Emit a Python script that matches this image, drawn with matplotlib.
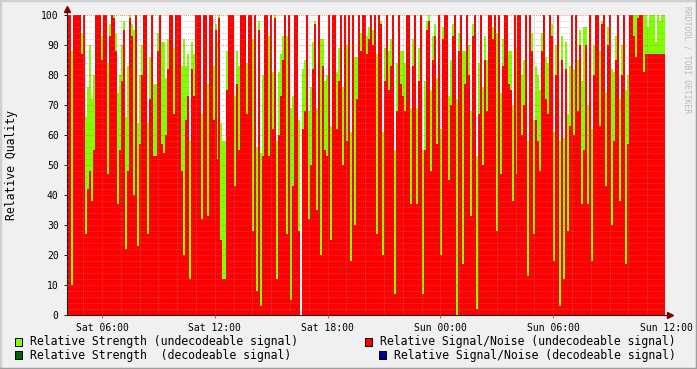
import pandas as pd
import matplotlib
matplotlib.use('Agg')
import matplotlib.pyplot as plt
import matplotlib.dates as mdates
import matplotlib.transforms as mtransforms
from matplotlib.patches import Rectangle
from matplotlib.lines import Line2D
from matplotlib.ticker import MultipleLocator

# time window of the graph
t_start = '2008-03-15 04:08'
t_end = '2008-03-16 11:57'
t_last_label = '2008-03-16 12:00'

# relative signal/noise (top of the red area), one value per slot
snr_a = [100, 100, 10, 100, 100, 100, 100, 87, 100, 27, 42, 48, 38, 55, 100, 100, 100, 85, 100, 100, 47, 93,
         100, 99, 88, 37, 55, 78, 95, 22, 48, 99, 93, 40, 100, 23, 57, 80, 100, 100, 27, 72, 100]
snr_b = [53, 53, 88, 100, 57, 54, 60, 82, 100, 100, 67, 100, 100, 100, 48, 20, 65, 73, 12, 82, 73, 100,
         100, 100, 32, 100, 100, 33, 100, 100, 65, 95, 52, 99, 25, 12, 12, 75, 100, 100, 100, 43, 77]
snr_c = [55, 100, 100, 100, 67, 100, 100, 28, 100, 8, 95, 3, 53, 100, 100, 53, 100, 62, 99, 12, 60, 73,
         85, 100, 27, 100, 5, 43, 100, 100, 28, 0, 62, 68, 100, 32, 50, 82, 97, 35, 100, 20, 83]
snr_d = [55, 53, 100, 25, 100, 100, 62, 78, 100, 50, 100, 58, 100, 18, 100, 30, 72, 100, 88, 100, 100, 87,
         92, 100, 90, 100, 27, 100, 97, 20, 78, 100, 75, 83, 100, 7, 68, 100, 77, 73, 68, 100, 100]
snr_e = [37, 83, 100, 37, 78, 100, 7, 55, 95, 98, 48, 85, 93, 57, 100, 20, 92, 100, 100, 45, 70, 93,
         100, 0, 88, 100, 17, 77, 100, 80, 33, 93, 100, 2, 67, 100, 50, 85, 68, 100, 100, 92, 100]
snr_f = [28, 100, 47, 83, 100, 100, 77, 75, 38, 100, 47, 100, 100, 60, 70, 100, 13, 100, 88, 27, 65, 58,
         48, 88, 100, 72, 67, 100, 93, 18, 80, 100, 3, 85, 12, 82, 28, 63, 100, 60, 100, 68, 90]
snr_g = [37, 55, 90, 37, 100, 18, 80, 100, 100, 63, 97, 100, 43, 90, 100, 30, 58, 85, 100, 38, 80, 100,
         17, 57, 100, 100, 93, 86, 99, 100, 100, 81, 87, 87, 87, 87, 87, 87, 87, 87, 87, 87]

# relative strength (top of the green area)
strength_a = [100, 100, 88, 100, 100, 100, 100, 94, 100, 66, 76, 90, 72, 80, 100, 100, 100, 93, 100, 100, 84, 97,
              100, 100, 94, 74, 80, 90, 98, 66, 83, 100, 97, 95, 100, 64, 80, 90, 100, 100, 64, 86, 100]
strength_b = [77, 77, 94, 100, 91, 91, 79, 92, 100, 100, 89, 100, 100, 100, 83, 92, 83, 87, 58, 91, 87, 100,
              100, 100, 67, 100, 100, 77, 100, 100, 83, 97, 91, 100, 64, 58, 58, 88, 100, 100, 100, 73, 88]
strength_c = [83, 100, 100, 100, 84, 100, 100, 92, 100, 56, 98, 54, 80, 100, 100, 93, 100, 81, 100, 58, 81, 87,
              93, 100, 93, 100, 69, 73, 100, 100, 65, 0, 82, 85, 100, 68, 76, 91, 98, 69, 100, 92, 92]
strength_d = [78, 80, 100, 63, 100, 100, 81, 89, 100, 76, 100, 90, 100, 61, 100, 86, 86, 100, 94, 100, 100, 93,
              96, 100, 95, 100, 87, 100, 98, 61, 89, 100, 88, 92, 100, 55, 84, 100, 88, 88, 84, 100, 100]
strength_e = [69, 92, 100, 69, 89, 100, 55, 78, 98, 100, 75, 93, 97, 79, 100, 62, 96, 100, 100, 73, 85, 97,
              100, 72, 94, 100, 88, 88, 100, 90, 68, 97, 100, 53, 84, 100, 76, 93, 85, 100, 100, 96, 100]
strength_f = [94, 100, 74, 92, 100, 100, 88, 88, 70, 100, 89, 100, 100, 80, 85, 100, 58, 100, 94, 65, 83, 80,
              75, 94, 100, 86, 84, 100, 97, 61, 90, 100, 58, 93, 59, 91, 67, 83, 100, 82, 100, 85, 95]
strength_g = [78, 96, 96, 70, 100, 62, 90, 100, 100, 88, 98, 100, 74, 96, 100, 82, 81, 93, 100, 72, 90, 100,
              75, 80, 100, 100, 100, 100, 100, 100, 100, 100, 100, 96, 100, 100, 100, 91, 100, 98, 100, 100]

legend_labels = ['Relative Strength (undecodeable signal)',
                 'Relative Strength  (decodeable signal)',
                 'Relative Signal/Noise (undecodeable signal)',
                 'Relative Signal/Noise (decodeable signal)']
legend_colors = ['#80ff00', '#006600', '#ff0000', '#000099']

snr = snr_a + snr_b + snr_c + snr_d + snr_e + snr_f + snr_g
strength = strength_a + strength_b + strength_c + strength_d + strength_e + strength_f + strength_g

W, H = 697, 369
mono = 'DejaVu Sans Mono'

fig = plt.figure(figsize=(W / 100, H / 100), dpi=100)
fig.patch.set_facecolor('#f0f0f0')

# 3d-ish frame round the canvas
fig.add_artist(Line2D([0, 0], [0, 1], transform=fig.transFigure, color='#cfcfcf', lw=2.5))
fig.add_artist(Line2D([0, 1], [1, 1], transform=fig.transFigure, color='#cfcfcf', lw=2.5))
fig.add_artist(Line2D([1, 1], [0, 1], transform=fig.transFigure, color='#9e9e9e', lw=2.5))
fig.add_artist(Line2D([0, 1], [0, 0], transform=fig.transFigure, color='#9e9e9e', lw=2.5))

ax = fig.add_axes([67 / W, (H - 315) / H, 598 / W, 300 / H])
ax.set_facecolor('white')

edges = mdates.date2num(pd.date_range(t_start, t_end, periods=len(snr) + 1))
ax.stairs(strength, edges, fill=True, color=legend_colors[0], lw=0, zorder=1, antialiased=False)
ax.stairs(snr, edges, fill=True, color=legend_colors[2], lw=0, zorder=1.5, antialiased=False)

ax.set_xlim(edges[0], edges[-1])
ax.set_ylim(0, 100)

ax.xaxis.set_major_locator(mdates.HourLocator(byhour=[0, 6, 12, 18]))
ax.xaxis.set_minor_locator(mdates.HourLocator())
ax.xaxis.set_major_formatter(mdates.DateFormatter('%a %H:%M'))
ax.yaxis.set_major_locator(MultipleLocator(10))
ax.yaxis.set_minor_locator(MultipleLocator(2))

ax.set_axisbelow(False)
ax.grid(which='minor', color='#8f8f8f', alpha=0.45, lw=0.7, ls=(0, (1, 1)))
ax.grid(which='major', color='#de5050', alpha=0.6, lw=0.7, ls=(0, (1, 1)))

ax.tick_params(which='major', length=2.5, width=0.7, color='#de5050', labelsize=7, pad=3)
ax.tick_params(axis='y', which='major', color='#1f1f1f', pad=3.5)
ax.tick_params(which='minor', length=0)
for lab in ax.get_xticklabels() + ax.get_yticklabels():
    lab.set_family(mono)

# the last label sits just past the right edge, so the locator skips it
last = pd.Timestamp(t_last_label)
trans = mtransforms.blended_transform_factory(ax.transData, ax.transAxes)
ax.text(mdates.date2num(last), -0.026, last.strftime('%a %H:%M'), transform=trans, ha='center', va='top',
        family=mono, fontsize=7, clip_on=False)

for s in ['top', 'right']:
    ax.spines[s].set_visible(False)
ax.spines['left'].set_color('#1f1f1f')
ax.spines['bottom'].set_color('#1f1f1f')
ax.spines['left'].set_linewidth(0.8)
ax.spines['bottom'].set_linewidth(0.8)

# axis arrows
ax.plot([0, 0], [1, 1.02], transform=ax.transAxes, color='#1f1f1f', lw=0.8, clip_on=False)
ax.plot([1, 1.008], [0, 0], transform=ax.transAxes, color='#1f1f1f', lw=0.8, clip_on=False)
ax.plot([0], [1.02], marker='^', ms=4, color='#7f0000', transform=ax.transAxes, clip_on=False)
ax.plot([1.008], [0], marker='>', ms=4, color='#7f0000', transform=ax.transAxes, clip_on=False)

fig.text(12 / W, 1 - 165 / H, 'Relative Quality', rotation=90, ha='center', va='center',
         family=mono, fontsize=8.3)
fig.text(687 / W, 1 - 60 / H, 'RRDTOOL / TOBI OETIKER', rotation=-90, ha='center', va='center',
         family=mono, fontsize=5.8, color='#b8b8b8')

# legend, laid out like rrdtool does it
legend_pos = [(15, 341.5, 30), (15, 355, 30), (365, 341.5, 380), (379, 355, 394)]
for (bx, by, tx), lab, col in zip(legend_pos, legend_labels, legend_colors):
    fig.add_artist(Rectangle((bx / W, 1 - (by + 4) / H), 7 / W, 8 / H, transform=fig.transFigure,
                             facecolor=col, edgecolor='black', lw=0.7))
    fig.text(tx / W, 1 - by / H, lab, ha='left', va='center', family=mono, fontsize=8.3)

fig.savefig('out.png', dpi=100, facecolor=fig.get_facecolor())
